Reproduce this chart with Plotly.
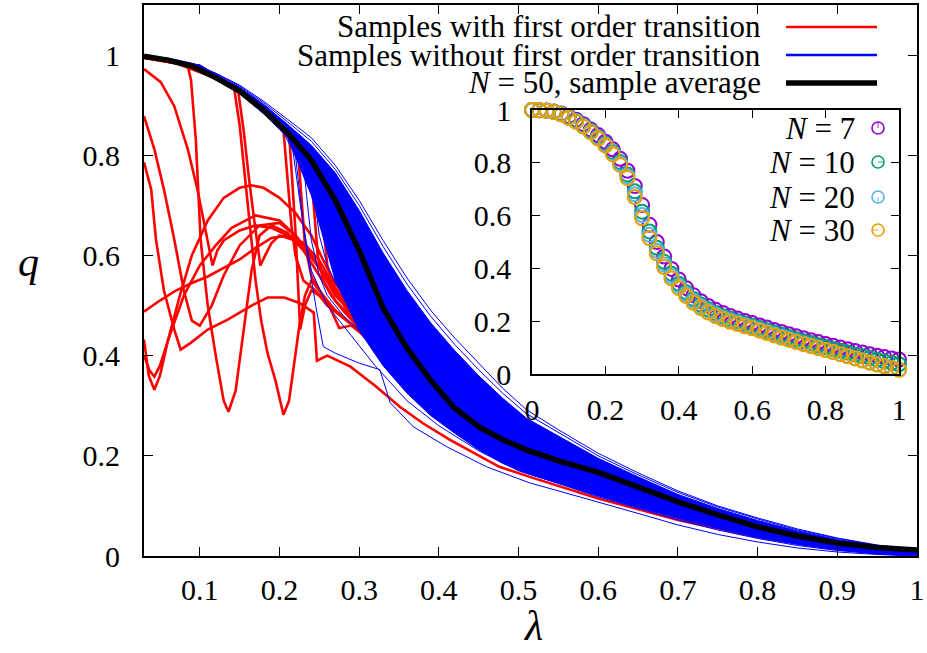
import plotly.graph_objects as go

# ---------------- main panel data ----------------
lam_band = [0.03, 0.06, 0.09, 0.12, 0.15, 0.18, 0.21, 0.24, 0.27, 0.30, 0.33, 0.36, 0.39, 0.42,
            0.45, 0.48, 0.51, 0.55, 0.60, 0.65, 0.70, 0.75, 0.80, 0.85, 0.90, 0.95, 1.00]
q_average = [0.998, 0.99, 0.978, 0.955, 0.928, 0.89, 0.845, 0.79, 0.71, 0.61, 0.495, 0.415, 0.35, 0.295,
             0.258, 0.232, 0.212, 0.19, 0.167, 0.137, 0.108, 0.082, 0.058, 0.04, 0.026, 0.017, 0.012]
band_core_upper = [0.999, 0.993, 0.982, 0.961, 0.936, 0.902, 0.862, 0.82, 0.765, 0.69, 0.605, 0.53, 0.465, 0.41,
                   0.36, 0.315, 0.275, 0.24, 0.195, 0.158, 0.123, 0.095, 0.071, 0.05, 0.033, 0.02, 0.012]
band_core_lower = [0.996, 0.988, 0.975, 0.951, 0.923, 0.883, 0.836, 0.72, 0.55, 0.45, 0.38, 0.325, 0.28, 0.245,
                   0.212, 0.185, 0.165, 0.145, 0.12, 0.097, 0.075, 0.055, 0.037, 0.023, 0.012, 0.005, 0.002]
blue_outer_1 = [0.999, 0.994, 0.984, 0.964, 0.94, 0.908, 0.872, 0.835, 0.78, 0.71, 0.63, 0.555, 0.49, 0.435,
                0.385, 0.335, 0.292, 0.252, 0.205, 0.166, 0.13, 0.1, 0.076, 0.054, 0.036, 0.022, 0.013]
blue_outer_2 = [0.999, 0.993, 0.983, 0.963, 0.938, 0.905, 0.867, 0.828, 0.772, 0.7, 0.618, 0.543, 0.478, 0.422,
                0.372, 0.325, 0.284, 0.246, 0.2, 0.162, 0.127, 0.098, 0.074, 0.052, 0.035, 0.021, 0.012]

b_lo1_lam = [0.03, 0.1, 0.15, 0.2, 0.215, 0.225, 0.235, 0.247, 0.255, 0.27, 0.3, 0.326, 0.339, 0.368,
             0.41, 0.46, 0.514, 0.55, 0.6, 0.65, 0.7, 0.75, 0.8, 0.85, 0.9, 0.95, 1.0]
b_lo1_q = [0.998, 0.98, 0.93, 0.86, 0.83, 0.72, 0.6, 0.486, 0.418, 0.405, 0.385, 0.372, 0.306, 0.258,
           0.218, 0.178, 0.146, 0.13, 0.108, 0.085, 0.062, 0.043, 0.028, 0.016, 0.008, 0.003, 0.0]
b_lo2_lam = [0.03, 0.1, 0.15, 0.2, 0.22, 0.23, 0.24, 0.26, 0.29, 0.32, 0.36, 0.4, 0.45, 0.5, 0.55,
             0.6, 0.65, 0.7, 0.75, 0.8, 0.85, 0.9, 0.95, 1.0]
b_lo2_q = [0.998, 0.98, 0.93, 0.86, 0.8, 0.66, 0.57, 0.5, 0.44, 0.38, 0.31, 0.26, 0.21, 0.17, 0.145,
           0.118, 0.095, 0.072, 0.052, 0.035, 0.021, 0.011, 0.004, 0.0]
b_lo3_lam = [0.03, 0.1, 0.15, 0.2, 0.228, 0.234, 0.24, 0.25, 0.26, 0.28, 0.3, 0.33, 0.36, 0.4, 0.45,
             0.5, 0.6, 0.7, 0.8, 0.9, 1.0]
b_lo3_q = [0.998, 0.98, 0.93, 0.86, 0.82, 0.72, 0.63, 0.56, 0.52, 0.48, 0.45, 0.4, 0.345, 0.29, 0.232,
           0.19, 0.128, 0.08, 0.045, 0.018, 0.002]
b_lo4_lam = [0.03, 0.1, 0.15, 0.2, 0.24, 0.245, 0.25, 0.26, 0.27, 0.29, 0.31, 0.34, 0.37, 0.4, 0.45,
             0.5, 0.6, 0.7, 0.8, 0.9, 1.0]
b_lo4_q = [0.998, 0.98, 0.93, 0.86, 0.79, 0.7, 0.64, 0.58, 0.545, 0.5, 0.46, 0.4, 0.35, 0.305, 0.245,
           0.2, 0.135, 0.085, 0.048, 0.02, 0.002]

r1_lam = [0.03, 0.05, 0.07, 0.085, 0.089, 0.095, 0.101, 0.11, 0.12, 0.13, 0.136, 0.145, 0.155, 0.165, 0.175,
          0.19, 0.21, 0.23, 0.25, 0.27, 0.30, 0.35, 0.40, 0.45, 0.50, 0.60, 0.70, 0.80, 0.90, 1.00]
r1_q = [0.995, 0.99, 0.984, 0.978, 0.95, 0.832, 0.632, 0.50, 0.40, 0.31, 0.288, 0.33, 0.45, 0.57, 0.64,
        0.66, 0.645, 0.61, 0.56, 0.51, 0.46, 0.37, 0.29, 0.235, 0.19, 0.13, 0.088, 0.052, 0.022, 0.003]
r2_lam = [0.03, 0.051, 0.068, 0.085, 0.097, 0.11, 0.116, 0.122, 0.13, 0.15, 0.17, 0.19, 0.21, 0.23, 0.25,
          0.27, 0.30, 0.35, 0.40, 0.45, 0.50, 0.60, 0.70, 0.80, 0.90, 1.00]
r2_q = [0.972, 0.946, 0.898, 0.812, 0.732, 0.632, 0.58, 0.61, 0.63, 0.65, 0.66, 0.655, 0.64, 0.615, 0.575,
        0.52, 0.47, 0.38, 0.3, 0.24, 0.195, 0.135, 0.09, 0.054, 0.024, 0.004]
r3_lam = [0.03, 0.043, 0.055, 0.068, 0.08, 0.09, 0.1, 0.115, 0.13, 0.15, 0.175, 0.2, 0.22, 0.24, 0.26,
          0.28, 0.30, 0.35, 0.40, 0.45, 0.50, 0.60, 0.70, 0.80, 0.90, 1.00]
r3_q = [0.878, 0.812, 0.732, 0.632, 0.53, 0.47, 0.46, 0.5, 0.56, 0.62, 0.66, 0.665, 0.64, 0.6, 0.55,
        0.51, 0.465, 0.375, 0.295, 0.235, 0.19, 0.132, 0.088, 0.052, 0.022, 0.003]
r4_lam = [0.03, 0.039, 0.045, 0.055, 0.068, 0.076, 0.089, 0.11, 0.135, 0.165, 0.185, 0.206, 0.225, 0.243,
          0.247, 0.26, 0.289, 0.32, 0.351, 0.38, 0.414, 0.45, 0.476, 0.514, 0.55, 0.60, 0.70, 0.80, 0.90, 1.00]
r4_q = [0.786, 0.732, 0.632, 0.53, 0.452, 0.412, 0.426, 0.452, 0.472, 0.50, 0.516, 0.516, 0.505, 0.486,
        0.39, 0.40, 0.378, 0.34, 0.298, 0.265, 0.232, 0.2, 0.178, 0.158, 0.14, 0.115, 0.072, 0.038, 0.014, 0.0]
r5_lam = [0.03, 0.036, 0.043, 0.05, 0.06, 0.075, 0.09, 0.11, 0.13, 0.15, 0.165, 0.18, 0.2, 0.22, 0.24,
          0.255, 0.27, 0.30, 0.35, 0.40, 0.45, 0.50, 0.60, 0.70, 0.80, 0.90, 1.00]
r5_q = [0.432, 0.36, 0.332, 0.36, 0.43, 0.52, 0.6, 0.67, 0.715, 0.735, 0.74, 0.735, 0.715, 0.685, 0.64,
        0.59, 0.545, 0.475, 0.38, 0.3, 0.24, 0.195, 0.135, 0.09, 0.054, 0.024, 0.004]
r6_lam = [0.03, 0.037, 0.043, 0.05, 0.06, 0.08, 0.1, 0.12, 0.14, 0.17, 0.2, 0.22, 0.24, 0.26, 0.28,
          0.30, 0.35, 0.40, 0.45, 0.50, 0.60, 0.70, 0.80, 0.90, 1.00]
r6_q = [0.40, 0.37, 0.358, 0.38, 0.43, 0.52, 0.58, 0.62, 0.655, 0.68, 0.67, 0.64, 0.6, 0.55, 0.505,
        0.465, 0.375, 0.295, 0.237, 0.192, 0.133, 0.089, 0.053, 0.023, 0.003]
r7_lam = [0.03, 0.05, 0.07, 0.09, 0.11, 0.13, 0.15, 0.17, 0.19, 0.21, 0.23, 0.25, 0.27, 0.30, 0.35,
          0.40, 0.45, 0.50, 0.60, 0.70, 0.80, 0.90, 1.00]
r7_q = [0.488, 0.51, 0.53, 0.545, 0.558, 0.575, 0.592, 0.615, 0.635, 0.64, 0.625, 0.59, 0.535, 0.47, 0.375,
        0.295, 0.237, 0.192, 0.133, 0.089, 0.053, 0.023, 0.003]
r8_lam = [0.03, 0.07, 0.11, 0.143, 0.15, 0.157, 0.163, 0.17, 0.177, 0.185, 0.195, 0.205, 0.212, 0.218,
          0.225, 0.232, 0.24, 0.25, 0.27, 0.30, 0.35, 0.40, 0.45, 0.50, 0.60, 0.70, 0.80, 0.90, 1.00]
r8_q = [0.995, 0.984, 0.96, 0.935, 0.86, 0.75, 0.65, 0.55, 0.47, 0.405, 0.35, 0.282, 0.31, 0.38,
        0.46, 0.52, 0.55, 0.53, 0.49, 0.45, 0.36, 0.285, 0.228, 0.185, 0.128, 0.086, 0.05, 0.02, 0.002]
r9_lam = [0.03, 0.07, 0.11, 0.148, 0.155, 0.162, 0.17, 0.176, 0.182, 0.19, 0.2, 0.22, 0.24, 0.26, 0.28,
          0.30, 0.35, 0.40, 0.45, 0.50, 0.60, 0.70, 0.80, 0.90, 1.00]
r9_q = [0.995, 0.984, 0.96, 0.93, 0.85, 0.75, 0.65, 0.58, 0.6, 0.625, 0.64, 0.63, 0.6, 0.555, 0.505,
        0.465, 0.375, 0.295, 0.236, 0.19, 0.132, 0.088, 0.052, 0.022, 0.003]
r10_lam = [0.03, 0.1, 0.15, 0.2, 0.205, 0.21, 0.215, 0.22, 0.23, 0.245, 0.26, 0.28, 0.30, 0.35, 0.40,
           0.45, 0.50, 0.60, 0.70, 0.80, 0.90, 1.00]
r10_q = [0.995, 0.978, 0.93, 0.86, 0.85, 0.76, 0.66, 0.6, 0.55, 0.53, 0.5, 0.475, 0.45, 0.36, 0.285,
         0.228, 0.185, 0.128, 0.086, 0.05, 0.02, 0.002]
r11_lam = [0.03, 0.1, 0.15, 0.2, 0.212, 0.216, 0.22, 0.226, 0.232, 0.24, 0.25, 0.27, 0.30, 0.35, 0.40,
           0.45, 0.50, 0.60, 0.70, 0.80, 0.90, 1.00]
r11_q = [0.995, 0.978, 0.93, 0.86, 0.845, 0.75, 0.65, 0.452, 0.5, 0.53, 0.52, 0.49, 0.45, 0.36, 0.285,
         0.23, 0.186, 0.129, 0.086, 0.05, 0.02, 0.002]
r12_lam = [0.03, 0.1, 0.15, 0.2, 0.222, 0.227, 0.232, 0.24, 0.25, 0.262, 0.275, 0.29, 0.31, 0.35, 0.40,
           0.45, 0.50, 0.60, 0.70, 0.80, 0.90, 1.00]
r12_q = [0.995, 0.978, 0.93, 0.86, 0.835, 0.72, 0.62, 0.56, 0.53, 0.5, 0.455, 0.46, 0.435, 0.365, 0.288,
         0.23, 0.186, 0.129, 0.086, 0.05, 0.02, 0.002]
r13_lam = [0.03, 0.1, 0.15, 0.2, 0.238, 0.243, 0.248, 0.255, 0.265, 0.28, 0.3, 0.33, 0.36, 0.40, 0.45,
           0.50, 0.60, 0.70, 0.80, 0.90, 1.00]
r13_q = [0.995, 0.978, 0.93, 0.86, 0.80, 0.7, 0.6, 0.55, 0.52, 0.49, 0.455, 0.395, 0.345, 0.29, 0.233,
         0.188, 0.13, 0.087, 0.051, 0.021, 0.002]
r14_lam = [0.03, 0.1, 0.15, 0.2, 0.25, 0.255, 0.26, 0.27, 0.285, 0.3, 0.33, 0.36, 0.40, 0.45, 0.50,
           0.60, 0.70, 0.80, 0.90, 1.00]
r14_q = [0.995, 0.978, 0.93, 0.86, 0.77, 0.66, 0.58, 0.53, 0.49, 0.465, 0.405, 0.35, 0.295, 0.236, 0.19,
         0.132, 0.088, 0.052, 0.022, 0.003]

red_curves = [(r1_lam, r1_q), (r2_lam, r2_q), (r3_lam, r3_q), (r4_lam, r4_q), (r5_lam, r5_q),
              (r6_lam, r6_q), (r7_lam, r7_q), (r8_lam, r8_q), (r9_lam, r9_q), (r10_lam, r10_q),
              (r11_lam, r11_q), (r12_lam, r12_q), (r13_lam, r13_q), (r14_lam, r14_q)]
blue_extra = [(b_lo1_lam, b_lo1_q), (b_lo2_lam, b_lo2_q), (b_lo3_lam, b_lo3_q), (b_lo4_lam, b_lo4_q)]

legend_labels = ["Samples with first order transition",
                 "Samples without first order transition",
                 "<i>N</i> = 50, sample average"]

# ---------------- inset data ----------------
lam_inset = [0.00, 0.02, 0.04, 0.06, 0.08, 0.10, 0.12, 0.14, 0.16, 0.18, 0.20, 0.22, 0.24, 0.26, 0.28,
             0.30, 0.32, 0.34, 0.36, 0.38, 0.40, 0.42, 0.44, 0.46, 0.48, 0.50, 0.52, 0.54, 0.56, 0.58,
             0.60, 0.62, 0.64, 0.66, 0.68, 0.70, 0.72, 0.74, 0.76, 0.78, 0.80, 0.82, 0.84, 0.86, 0.88,
             0.90, 0.92, 0.94, 0.96, 0.98, 1.00]
q_N7 = [1.000, 0.999, 0.998, 0.994, 0.987, 0.976, 0.963, 0.946, 0.926, 0.905, 0.880, 0.851, 0.815, 0.770,
        0.712, 0.640, 0.565, 0.500, 0.445, 0.398, 0.358, 0.325, 0.298, 0.276, 0.258, 0.243, 0.231, 0.220,
        0.210, 0.201, 0.193, 0.184, 0.176, 0.167, 0.159, 0.151, 0.143, 0.135, 0.128, 0.121, 0.114, 0.107,
        0.100, 0.094, 0.087, 0.081, 0.075, 0.069, 0.064, 0.059, 0.055]
q_N10 = [1.000, 0.999, 0.997, 0.993, 0.985, 0.973, 0.959, 0.941, 0.921, 0.898, 0.872, 0.841, 0.803, 0.756,
         0.692, 0.615, 0.540, 0.478, 0.425, 0.380, 0.342, 0.310, 0.284, 0.263, 0.245, 0.231, 0.219, 0.209,
         0.200, 0.191, 0.183, 0.174, 0.166, 0.157, 0.149, 0.140, 0.132, 0.124, 0.117, 0.109, 0.102, 0.095,
         0.088, 0.081, 0.074, 0.067, 0.061, 0.054, 0.048, 0.042, 0.037]
q_N20 = [1.000, 0.999, 0.997, 0.992, 0.984, 0.971, 0.957, 0.939, 0.918, 0.895, 0.868, 0.836, 0.797, 0.749,
         0.681, 0.602, 0.527, 0.467, 0.415, 0.371, 0.333, 0.302, 0.277, 0.256, 0.239, 0.225, 0.213, 0.203,
         0.194, 0.185, 0.177, 0.168, 0.159, 0.150, 0.141, 0.133, 0.124, 0.116, 0.108, 0.100, 0.092, 0.084,
         0.076, 0.068, 0.060, 0.052, 0.044, 0.037, 0.030, 0.023, 0.017]
q_N30 = [1.000, 0.999, 0.997, 0.992, 0.983, 0.970, 0.955, 0.937, 0.915, 0.892, 0.865, 0.832, 0.792, 0.742,
         0.670, 0.590, 0.515, 0.457, 0.405, 0.362, 0.325, 0.295, 0.270, 0.250, 0.233, 0.219, 0.208, 0.198,
         0.189, 0.181, 0.173, 0.164, 0.155, 0.146, 0.137, 0.129, 0.121, 0.113, 0.106, 0.098, 0.091, 0.083,
         0.075, 0.067, 0.059, 0.051, 0.043, 0.036, 0.029, 0.022, 0.016]
inset_series = [("<i>N</i> = 7", q_N7, "#9400d3"), ("<i>N</i> = 10", q_N10, "#009e73"),
                ("<i>N</i> = 20", q_N20, "#56b4e9"), ("<i>N</i> = 30", q_N30, "#e69f00")]

FONT = "Liberation Serif, Times New Roman, serif"
RED, BLUE, BLACK = "#ff0000", "#0000ff", "#000000"

fig = go.Figure()

for lam, q in red_curves:
    fig.add_trace(go.Scatter(x=lam, y=q, mode="lines", line=dict(color=RED, width=2.6),
                             showlegend=False, hoverinfo="skip"))

for lam, q in blue_extra:
    fig.add_trace(go.Scatter(x=lam, y=q, mode="lines", line=dict(color=BLUE, width=1),
                             showlegend=False, hoverinfo="skip"))
fig.add_trace(go.Scatter(x=lam_band, y=band_core_lower, mode="lines", line=dict(color=BLUE, width=1),
                         showlegend=False, hoverinfo="skip"))
fig.add_trace(go.Scatter(x=lam_band, y=band_core_upper, mode="lines", line=dict(color=BLUE, width=1),
                         fill="tonexty", fillcolor=BLUE, showlegend=False, hoverinfo="skip"))
for q in (blue_outer_1, blue_outer_2):
    fig.add_trace(go.Scatter(x=lam_band, y=q, mode="lines", line=dict(color=BLUE, width=1),
                             showlegend=False, hoverinfo="skip"))

fig.add_trace(go.Scatter(x=lam_band, y=q_average, mode="lines", line=dict(color=BLACK, width=5.5),
                         showlegend=False, hoverinfo="skip"))

for name, q, col in inset_series:
    fig.add_trace(go.Scatter(x=lam_inset, y=q, mode="markers", xaxis="x2", yaxis="y2",
                             marker=dict(symbol="circle-open", size=14, color=col,
                                         line=dict(color=col, width=2)),
                             cliponaxis=False, showlegend=False, hoverinfo="skip"))

# ---------------- layout ----------------
L, R, T, B = 144, 10, 5, 97
W, H = 927, 653
pw, ph = W - L - R, H - T - B


def px(xp):
    return (xp - L) / pw


def py(yp):
    return (H - B - yp) / ph


axis_common = dict(showline=True, linecolor="black", mirror="allticks", ticks="inside",
                   tickcolor="black", showgrid=False, zeroline=False, automargin=False,
                   tickfont=dict(family=FONT, size=30, color="black"))

fig.update_layout(
    width=W, height=H, margin=dict(l=L, r=R, t=T, b=B, autoexpand=False),
    paper_bgcolor="white", plot_bgcolor="white",
    font=dict(family=FONT, color="black"),
    xaxis=dict(range=[0.03, 1.0], tickvals=[0.1, 0.2, 0.3, 0.4, 0.5, 0.6, 0.7, 0.8, 0.9, 1.0],
               ticktext=["0.1", "0.2", "0.3", "0.4", "0.5", "0.6", "0.7", "0.8", "0.9", "1"],
               linewidth=2, ticklen=9, tickwidth=1.2, ticklabelstandoff=6, **axis_common),
    yaxis=dict(range=[0, 1.1], tickvals=[0, 0.2, 0.4, 0.6, 0.8, 1.0],
               ticktext=["0", "0.2", "0.4", "0.6", "0.8", "1"],
               linewidth=2, ticklen=9, tickwidth=1.2, ticklabelstandoff=16, **axis_common),
    xaxis2=dict(domain=[px(532), px(899)], anchor="y2", range=[0, 1],
                tickvals=[0, 0.2, 0.4, 0.6, 0.8, 1.0], ticktext=["0", "0.2", "0.4", "0.6", "0.8", "1"],
                linewidth=1.6, ticklen=8, tickwidth=1.2, ticklabelstandoff=8, **axis_common),
    yaxis2=dict(domain=[py(374), py(110)], anchor="x2", range=[0, 1],
                tickvals=[0, 0.2, 0.4, 0.6, 0.8, 1.0], ticktext=["0", "0.2", "0.4", "0.6", "0.8", "1"],
                linewidth=1.6, ticklen=8, tickwidth=1.2, ticklabelstandoff=13, **axis_common),
    showlegend=False,
)

annotations = [
    dict(text="<i>q</i>", x=px(28), y=py(262), xref="paper", yref="paper", showarrow=False,
         xanchor="center", yanchor="middle", font=dict(family=FONT, size=42, color="black")),
    dict(text="<i>λ</i>", x=px(533), y=py(626), xref="paper", yref="paper", showarrow=False,
         xanchor="center", yanchor="middle", font=dict(family=FONT, size=42, color="black")),
]
shapes = []

legend_rows = [27, 55, 83]
legend_styles = [(RED, 2.6), (BLUE, 2.6), (BLACK, 5.5)]
for label, row, (col, wd) in zip(legend_labels, legend_rows, legend_styles):
    annotations.append(dict(text=label, x=px(763), y=py(row), xref="paper", yref="paper",
                            xanchor="right", yanchor="middle", showarrow=False,
                            font=dict(family=FONT, size=31, color="black")))
    shapes.append(dict(type="line", xref="paper", yref="paper", x0=px(786), x1=px(877),
                       y0=py(row), y1=py(row), line=dict(color=col, width=wd)))

inset_rows = [128, 162, 197, 230]
quadrants = ["M0,0 L0,6 A6,6 0 0,1 6,0 Z", "M0,0 L6,0 A6,6 0 0,1 0,-6 Z",
             "M0,0 L0,-6 A6,6 0 0,1 -6,0 Z", "M0,0 L-6,0 A6,6 0 0,1 0,6 Z"]
for (name, _q, col), row, quad in zip(inset_series, inset_rows, quadrants):
    annotations.append(dict(text=name, x=px(857), y=py(row), xref="paper", yref="paper",
                            xanchor="right", yanchor="middle", showarrow=False,
                            font=dict(family=FONT, size=31, color="black")))
    shapes.append(dict(type="circle", xref="paper", yref="paper", xsizemode="pixel", ysizemode="pixel",
                       xanchor=px(878), yanchor=py(row), x0=-6, x1=6, y0=-6, y1=6,
                       line=dict(color=col, width=1.6)))
    shapes.append(dict(type="path", xref="paper", yref="paper", xsizemode="pixel", ysizemode="pixel",
                       xanchor=px(878), yanchor=py(row), path=quad, fillcolor=col,
                       line=dict(color=col, width=0.5)))

fig.update_layout(annotations=annotations, shapes=shapes)
fig.write_html("out.html")
